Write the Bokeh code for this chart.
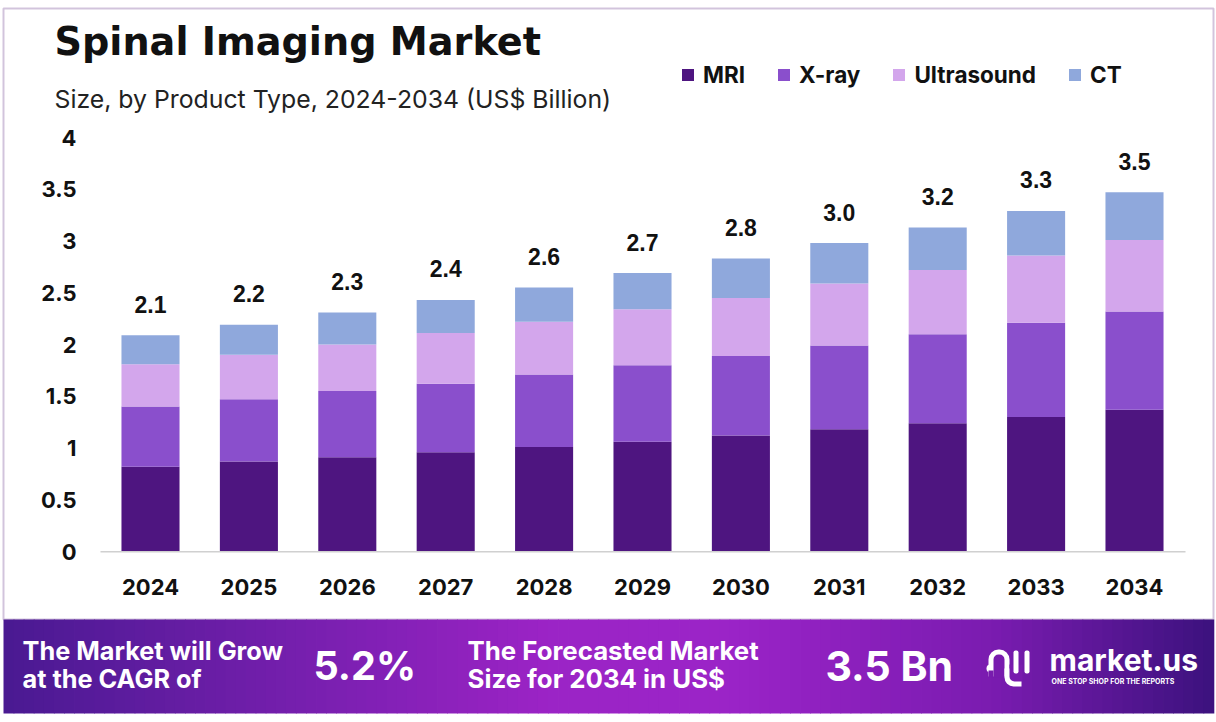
import numpy as np
from bokeh.plotting import figure
from bokeh.models import Range1d, Label, Legend, LegendItem, BoxAnnotation, ColumnDataSource
from bokeh.core.properties import value
from bokeh.embed import file_html
from bokeh.resources import INLINE

# ---------------- data ----------------
years = ["2024", "2025", "2026", "2027", "2028", "2029", "2030", "2031", "2032", "2033", "2034"]
mri = [0.82, 0.87, 0.91, 0.96, 1.01, 1.06, 1.12, 1.18, 1.24, 1.30, 1.37]
xray = [0.58, 0.60, 0.64, 0.66, 0.70, 0.74, 0.77, 0.81, 0.86, 0.91, 0.95]
ultrasound = [0.41, 0.43, 0.45, 0.49, 0.51, 0.54, 0.56, 0.60, 0.62, 0.65, 0.69]
ct = [0.28, 0.29, 0.31, 0.32, 0.33, 0.35, 0.38, 0.39, 0.41, 0.43, 0.46]
total_labels = ["2.1", "2.2", "2.3", "2.4", "2.6", "2.7", "2.8", "3.0", "3.2", "3.3", "3.5"]
series = ["MRI", "X-ray", "Ultrasound", "CT"]
colors = ["#4e1580", "#8a4fcc", "#d3a6ec", "#8fa8dc"]
y_ticks = [0, 0.5, 1, 1.5, 2, 2.5, 3, 3.5, 4]
y_tick_labels = ["0", "0.5", "1", "1.5", "2", "2.5", "3", "3.5", "4"]
cagr_text = "5.2%"
size_text = "3.5 Bn"

FONT = "Inter"
W, H = 1216, 718
# layout of the plotting area in canvas pixels
X0_PX, STEP_PX = 150.0, 98.4      # centre of first category, category pitch
Y0_PX, UNIT_PX = 551.0, 103.5     # value 0 position, pixels per unit

xi = list(range(len(years)))
totals = (np.array(mri) + np.array(xray) + np.array(ultrasound) + np.array(ct)).tolist()
src = ColumnDataSource(dict(xi=xi, year=years, MRI=mri, **{"X-ray": xray},
                            Ultrasound=ultrasound, CT=ct, total=totals, label=total_labels))

x_start = -X0_PX / STEP_PX
y_end = Y0_PX / UNIT_PX
p = figure(x_range=Range1d(x_start, x_start + W / STEP_PX),
           y_range=Range1d(y_end - H / UNIT_PX, y_end),
           width=W, height=H, output_backend="svg", toolbar_location=None,
           x_axis_type=None, y_axis_type=None, min_border=0)
p.outline_line_color = None
p.grid.visible = False
p.background_fill_color = "white"
p.border_fill_color = "white"


def box(l, r, t, b, **kw):
    ba = BoxAnnotation(left=l, right=r, top=H - t, bottom=H - b,
                       left_units="screen", right_units="screen",
                       top_units="screen", bottom_units="screen", **kw)
    p.add_layout(ba)
    return ba


def lab(x, y, t, size, color="#111111", style="bold", font=FONT, align="left"):
    p.add_layout(Label(x=x, y=H - y, x_units="screen", y_units="screen", text=t,
                       text_font=font, text_font_style=style, text_font_size=size,
                       text_color=color, text_baseline="middle", text_align=align))


# ---------- bars ----------
rs = p.vbar_stack(series, x="xi", width=0.59, source=src, color=colors, line_color=None)

p.text(x="xi", y="total", text="label", source=src, text_align="center",
       text_baseline="middle", y_offset=-31, text_font=value("Liberation Sans"),
       text_font_style="bold", text_font_size="23px", text_color="#111111")

# ---------- axes (labels placed through the data scales) ----------
p.text(x=[x_start] * len(y_ticks), y=y_ticks, text=y_tick_labels, x_offset=76,
       text_align="right", text_baseline="middle", text_font=value(FONT),
       text_font_style="bold", text_font_size="22px", text_color="#111111")
p.text(x=xi, y=[0] * len(xi), text=years, y_offset=35,
       text_align="center", text_baseline="middle", text_font=value(FONT),
       text_font_style="bold", text_font_size="22px", text_color="#111111")
box(100, 1185, 550.5, 552, fill_color="#d0d0d0", fill_alpha=1, line_color=None)

# ---------- chart border ----------
box(3, 1213, 8, 619, fill_alpha=0, line_color="#6a3b8c", line_width=2)

# ---------- title & subtitle ----------
lab(54, 41, "Spinal Imaging Market", "38.2px", font="DejaVu Sans")
lab(54, 98, "Size, by Product Type, 2024-2034 (US$ Billion)", "24.8px", color="#222222",
    style="normal")

# ---------- legend ----------
legend = Legend(items=[LegendItem(label=s, renderers=[r]) for s, r in zip(series, rs)],
                orientation="horizontal", location=(680, H - 88),
                glyph_width=15, glyph_height=15, label_standoff=8, spacing=31,
                padding=0, margin=0, border_line_color=None, background_fill_alpha=0,
                label_text_font=FONT, label_text_font_style="bold",
                label_text_font_size="22.5px", label_text_color="#111111", label_height=24)
p.add_layout(legend, "center")

# ---------- footer gradient band ----------
stops_x = [0.0, 0.45, 0.6, 0.82, 1.0]
stops_c = [(0x4a, 0x1a, 0x92), (0x9c, 0x24, 0xc6), (0x9b, 0x24, 0xc8),
           (0x7a, 0x1c, 0xb0), (0x3c, 0x12, 0x7e)]


def grad_color(px):
    m = (px - 3) / 1210
    rgb = tuple(int(np.interp(m, stops_x, [c[k] for c in stops_c])) for k in range(3))
    return "#%02x%02x%02x" % rgb


n = 120
edges = np.linspace(3, 1213, n + 1)
for i in range(n):
    box(edges[i], edges[i + 1] + 0.8, 619, 713,
        fill_color=grad_color((edges[i] + edges[i + 1]) / 2), fill_alpha=1, line_color=None)

lab(22, 650, "The Market will Grow", "25.3px", color="white")
lab(22, 678, "at the CAGR of", "25.3px", color="white")
lab(313, 665, cagr_text, "39.5px", color="white")
lab(467, 650, "The Forecasted Market", "25.8px", color="white")
lab(467, 678, "Size for 2034 in US$", "25.8px", color="white")
lab(825, 665, size_text, "41px", color="white")
lab(1049, 659, "market.us", "30px", color="white")
lab(1051, 681, "ONE STOP SHOP FOR THE REPORTS", "7px", color="white")

# logo mark (built from rounded boxes)
bg = grad_color(1000)
box(986, 994, 664, 672, fill_color="white", fill_alpha=1, line_color=None, border_radius=4)
box(988, 1009, 649, 676, fill_color="white", fill_alpha=1, line_color=None,
    border_radius=(10, 10, 0, 0))
box(993, 1004, 654, 677, fill_color=bg, fill_alpha=1, line_color=None,
    border_radius=(5, 5, 0, 0))
box(988, 993, 670, 677, fill_color=bg, fill_alpha=1, line_color=None)
box(1004, 1021, 668, 686, fill_color="white", fill_alpha=1, line_color=None,
    border_radius=(0, 0, 0, 9))
box(1009, 1022, 664, 681, fill_color=bg, fill_alpha=1, line_color=None,
    border_radius=(0, 0, 0, 5))
box(1013, 1018, 650, 673, fill_color="white", fill_alpha=1, line_color=None, border_radius=2)
box(1024, 1029, 650, 673, fill_color="white", fill_alpha=1, line_color=None, border_radius=2)

open("out.html", "w").write(file_html(p, INLINE))
